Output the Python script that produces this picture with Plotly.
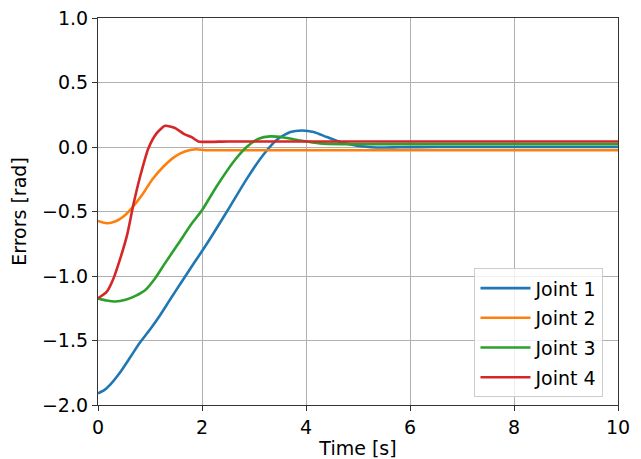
import plotly.graph_objects as go

# Joint 1
t1 = [0, 0.12, 0.24, 0.42, 0.62, 0.8, 1.0, 1.2, 1.39, 1.6, 1.78, 2.1, 2.48, 2.87, 3.18, 3.44, 3.7, 3.92, 4.15, 4.4, 4.66, 4.98, 5.36, 5.8, 6.5, 10]
e1 = [-1.91, -1.885, -1.84, -1.75, -1.63, -1.52, -1.415, -1.30, -1.18, -1.05, -0.94, -0.746, -0.50, -0.241, -0.06, 0.056, 0.116, 0.128, 0.116, 0.077, 0.038, 0.009, -0.004, -0.002, 0.0, 0.0]

# Joint 2
t2 = [0, 0.17, 0.33, 0.49, 0.65, 0.85, 1.04, 1.26, 1.48, 1.67, 1.88, 2.06, 2.5, 10]
e2 = [-0.573, -0.591, -0.578, -0.539, -0.474, -0.371, -0.254, -0.151, -0.074, -0.035, -0.018, -0.025, -0.025, -0.025]

# Joint 3
t3 = [0, 0.17, 0.33, 0.53, 0.72, 0.91, 1.1, 1.29, 1.55, 1.81, 2.0, 2.28, 2.61, 2.87, 3.09, 3.31, 3.57, 3.89, 4.27, 4.7, 5.5, 10]
e3 = [-1.175, -1.19, -1.198, -1.185, -1.154, -1.108, -1.017, -0.90, -0.746, -0.59, -0.49, -0.306, -0.112, 0.004, 0.064, 0.082, 0.074, 0.05, 0.028, 0.022, 0.022, 0.022]

# Joint 4
t4 = [0, 0.17, 0.3, 0.43, 0.56, 0.68, 0.81, 0.97, 1.13, 1.29, 1.48, 1.65, 1.81, 1.93, 2.18, 2.5, 10]
e4 = [-1.172, -1.121, -1.017, -0.862, -0.681, -0.448, -0.229, -0.009, 0.108, 0.164, 0.147, 0.102, 0.074, 0.043, 0.040, 0.043, 0.043]

names = ["Joint 1", "Joint 2", "Joint 3", "Joint 4"]
colors = ["#1f77b4", "#ff7f0e", "#2ca02c", "#d62728"]
series = [(t1, e1), (t2, e2), (t3, e3), (t4, e4)]

fig = go.Figure()
for i, ((t, e), n, c) in enumerate(zip(series, names, colors)):
    fig.add_trace(go.Scatter(
        x=t, y=e, mode="lines", name=n, legendgroup=f"g{i}",
        line=dict(color=c, width=2.6, shape="spline", smoothing=0.6),
    ))

font = dict(family="DejaVu Sans", size=19, color="black")
axis_common = dict(
    showline=True, mirror=True, linecolor="#333333", linewidth=1.2,
    ticks="outside", ticklen=5, tickwidth=1.2, tickcolor="#333333",
    showgrid=True, gridcolor="#b0b0b0", gridwidth=1.1, zeroline=False,
    tickfont=font, automargin=False, ticklabeloverflow="allow",
)
fig.update_xaxes(range=[0, 10], dtick=2, tick0=0,
                 title=dict(text="Time [s]", font=font, standoff=4), **axis_common)
fig.update_yaxes(range=[-2, 1], dtick=0.5, tick0=0, tickformat=".1f",
                 title=dict(text="Errors [rad]", font=font, standoff=10), **axis_common)

# page body has an 8px margin, so the figure is offset by 8px
fig.update_layout(
    width=633, height=451,
    margin=dict(l=90, r=23, t=10, b=54, autoexpand=False),
    plot_bgcolor="white", paper_bgcolor="white",
    font=font,
    showlegend=True,
    legend=dict(x=0.724, y=0.02, xanchor="left", yanchor="bottom",
                bgcolor="rgba(255,255,255,0.8)", bordercolor="#cccccc", borderwidth=1,
                font=font, tracegroupgap=2, itemwidth=50),
)

fig.write_html("out.html")
